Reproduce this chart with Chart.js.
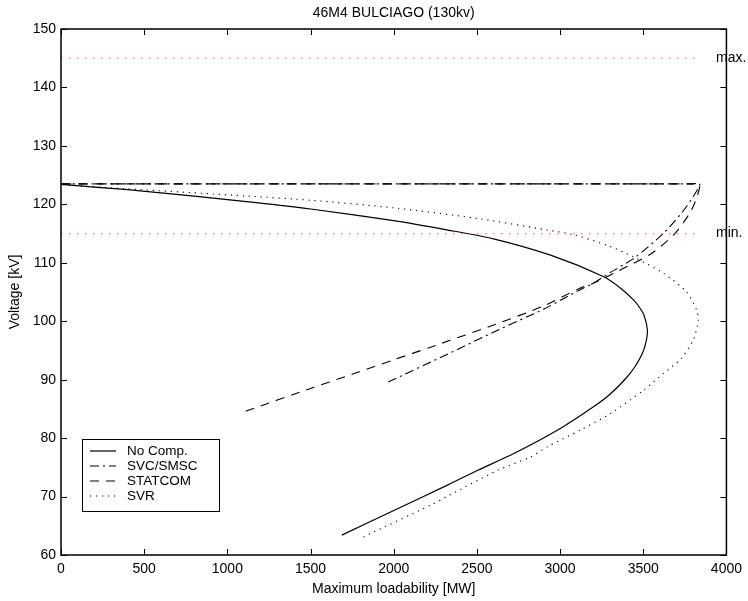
<!DOCTYPE html>
<html>
<head>
<meta charset="utf-8">
<script src="https://cdn.jsdelivr.net/npm/chart.js@4.4.1/dist/chart.umd.min.js"></script>
<style>
html,body{margin:0;padding:0;background:#fff;}
#wrap{width:748px;height:601px;}
</style>
</head>
<body>
<div id="wrap"><canvas id="c" width="748" height="601"></canvas></div>
<script>
const titleText = "46M4 BULCIAGO (130kv)";
const xTitle = "Maximum loadability [MW]";
const yTitle = "Voltage [kV]";
const seriesNames = ["No Comp.", "SVC/SMSC", "STATCOM", "SVR"];

const noCompX = [1688, 2007, 2326, 2505, 2725, 3004, 3203, 3300, 3395, 3452, 3495, 3517, 3525, 3505, 3479, 3443, 3366, 3263, 2943, 2600, 2326, 2000, 1500, 1172, 800, 400, 0];
const noCompY = [63.4, 67.7, 72.0, 74.5, 77.4, 81.7, 85.4, 87.5, 90.2, 92.3, 94.5, 96.5, 98.5, 101.0, 102.3, 103.6, 105.6, 107.6, 111.3, 114.1, 115.6, 117.2, 119.2, 120.3, 121.4, 122.5, 123.4];

const svcX = [1967, 2326, 2605, 2904, 3023, 3122, 3200, 3300, 3450, 3620, 3730, 3800, 3840, 3790, 0];
const svcY = [89.6, 94.4, 98.2, 102.1, 103.9, 105.4, 106.5, 108.3, 110.9, 115.0, 118.5, 121.3, 123.5, 123.5, 123.5];

const statcomX = [1110, 1500, 1788, 2000, 2226, 2326, 2605, 2900, 3122, 3200, 3350, 3550, 3690, 3780, 3820, 3840, 3790, 0];
const statcomY = [84.6, 88.5, 91.3, 93.4, 95.6, 96.6, 99.4, 102.6, 105.7, 106.5, 108.6, 111.6, 115.0, 118.5, 121.0, 123.5, 123.5, 123.5];

const svrX = [1818, 2226, 2326, 2625, 2824, 2924, 3123, 3303, 3502, 3622, 3721, 3801, 3831, 3821, 3761, 3622, 3442, 3300, 3083, 2924, 2500, 2000, 1500, 1132, 375, 0];
const svrY = [63.1, 68.6, 70.1, 74.5, 76.8, 78.5, 81.4, 84.2, 88.2, 91.1, 93.4, 96.8, 100.2, 101.9, 105.0, 108.2, 111.0, 112.8, 114.8, 115.6, 117.6, 119.4, 120.7, 121.4, 122.7, 123.4];

const limitNames = ["max.", "min."];
const limitValues = [145, 115];
const limitX = [0, 3840];

const xTicks = [0, 500, 1000, 1500, 2000, 2500, 3000, 3500, 4000];
const yTicks = [60, 70, 80, 90, 100, 110, 120, 130, 140, 150];

function pts(xs, ys){ return xs.map((x,i)=>({x:x, y:ys[i]})); }

const FONT = "'Liberation Sans', Arial, Helvetica, sans-serif";
const styles = [
  {color:'#000', dash:[], width:1.2},
  {color:'#000', dash:[9,4,2,4], width:1.1},
  {color:'#000', dash:[9,7], width:1.1},
  {color:'#000', dash:[1.2,4.8], width:1.1}
];
const seriesData = [pts(noCompX,noCompY), pts(svcX,svcY), pts(statcomX,statcomY), pts(svrX,svrY)];

const datasets = [];
limitValues.forEach((v,i)=>{
  datasets.push({label:limitNames[i], data: limitX.map(x=>({x:x,y:v})), borderColor:'rgb(255,120,120)', borderWidth:1.3, borderDash:[1.5,6.5], pointRadius:0, showLine:true, fill:false, tension:0});
});
seriesData.forEach((d,i)=>{
  datasets.push({label:seriesNames[i], data:d, borderColor:styles[i].color, borderWidth:styles[i].width, borderDash:styles[i].dash, pointRadius:0, showLine:true, fill:false, tension:0.25});
});

const decor = {
  id:'decor',
  afterDraw(chart){
    const ctx = chart.ctx, a = chart.chartArea;
    const xs = chart.scales.x, ys = chart.scales.y;
    ctx.save();
    ctx.strokeStyle = '#000'; ctx.lineWidth = 1.5; ctx.setLineDash([]);
    ctx.strokeRect(a.left, a.top, a.right-a.left, a.bottom-a.top);
    ctx.lineWidth = 1;
    const tl = 6;
    ctx.beginPath();
    xTicks.forEach(v=>{
      const p = Math.round(xs.getPixelForValue(v))+0.5;
      ctx.moveTo(p, a.bottom); ctx.lineTo(p, a.bottom-tl);
      ctx.moveTo(p, a.top); ctx.lineTo(p, a.top+tl);
    });
    yTicks.forEach(v=>{
      const p = Math.round(ys.getPixelForValue(v))+0.5;
      ctx.moveTo(a.left, p); ctx.lineTo(a.left+tl, p);
      ctx.moveTo(a.right, p); ctx.lineTo(a.right-tl, p);
    });
    ctx.stroke();
    ctx.fillStyle = '#000';
    ctx.font = '14px ' + FONT;
    ctx.textAlign = 'center'; ctx.textBaseline = 'middle';
    ctx.fillText(titleText, (a.left+a.right)/2, 13);
    ctx.fillText(xTitle, (a.left+a.right)/2, 589);
    ctx.save();
    ctx.translate(15, (a.top+a.bottom)/2);
    ctx.rotate(-Math.PI/2);
    ctx.fillText(yTitle, 0, 0);
    ctx.restore();
    ctx.textAlign = 'left';
    limitValues.forEach((v,i)=>{
      ctx.fillText(limitNames[i], 716, ys.getPixelForValue(v));
    });
    const lx = 82, ly = 439, lw = 137, lh = 72;
    ctx.fillStyle = '#fff';
    ctx.fillRect(lx, ly, lw, lh);
    ctx.strokeStyle = '#000'; ctx.lineWidth = 1;
    ctx.strokeRect(lx+0.5, ly+0.5, lw, lh);
    ctx.font = '13.5px ' + FONT;
    seriesNames.forEach((n,i)=>{
      const yy = 451 + i*15;
      ctx.strokeStyle = styles[i].color; ctx.lineWidth = styles[i].width;
      ctx.setLineDash(styles[i].dash);
      ctx.beginPath(); ctx.moveTo(90, yy); ctx.lineTo(116, yy); ctx.stroke();
      ctx.setLineDash([]);
      ctx.fillStyle = '#000';
      ctx.fillText(n, 127, yy);
    });
    ctx.restore();
  }
};

new Chart(document.getElementById('c'), {
  type:'scatter',
  data:{datasets:datasets},
  options:{
    responsive:false,
    animation:false,
    devicePixelRatio:1,
    layout:{padding:{top:29, right:18, left:0, bottom:0}},
    plugins:{legend:{display:false}, title:{display:false}, tooltip:{enabled:false}},
    scales:{
      x:{type:'linear', min:0, max:4000,
         afterFit(s){ s.height = 46; },
         afterBuildTicks(s){ s.ticks = xTicks.map(v=>({value:v})); },
         grid:{display:false, drawTicks:false}, border:{display:false},
         ticks:{padding:6, color:'#000', font:{family:FONT, size:14}, maxRotation:0, autoSkip:false, callback:(v)=>String(v)}},
      y:{type:'linear', min:60, max:150,
         afterFit(s){ s.width = 61; },
         afterBuildTicks(s){ s.ticks = yTicks.map(v=>({value:v})); },
         grid:{display:false, drawTicks:false}, border:{display:false},
         ticks:{padding:5, color:'#000', font:{family:FONT, size:14}, autoSkip:false, callback:(v)=>String(v)}}
    }
  },
  plugins:[decor]
});
</script>
</body>
</html>
